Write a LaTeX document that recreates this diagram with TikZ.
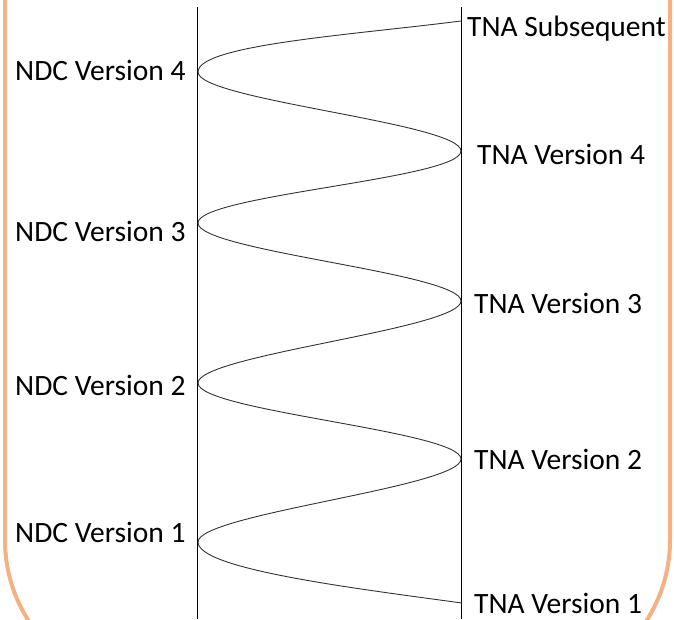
\documentclass[tikz,border=0pt]{standalone}
\usepackage{fontspec}
\setmainfont{Carlito}
\definecolor{frameorange}{HTML}{F4B183}
\begin{document}
\begin{tikzpicture}[x=1pt,y=-1pt,
  lbl/.style={anchor=base west,inner sep=0pt,font=\fontsize{29.5}{32}\selectfont},
  axis/.style={black,line width=0.9pt},
  wave/.style={black!80,line width=0.9pt}]
\useasboundingbox (0,0) rectangle (674,619);
\clip (0,0) rectangle (674,619);
% orange frame
\draw[frameorange,line width=4pt,rounded corners=150pt] (5,-300) rectangle (670,690);
% vertical lines
\coordinate (l1) at (197,7);
\coordinate (l2) at (197,619);
\coordinate (r1) at (461,7);
\coordinate (r2) at (461,619);
\draw[axis] (l1) -- (l2);
\draw[axis] (r1) -- (r2);
% tips
\coordinate (s0) at (461,21);
\coordinate (a4) at (198,72);
\coordinate (b4) at (461,151);
\coordinate (a3) at (198,223);
\coordinate (b3) at (461,301);
\coordinate (a2) at (198,383);
\coordinate (b2) at (461,459);
\coordinate (a1) at (198,542);
\coordinate (e0) at (462,603);
\draw[wave] (s0) .. controls (351,35) and (198,45) .. (a4)
  .. controls (198,100) and (461,123) .. (b4)
  .. controls (461,179) and (198,195) .. (a3)
  .. controls (198,251) and (461,273) .. (b3)
  .. controls (461,329) and (198,355) .. (a2)
  .. controls (198,411) and (461,431) .. (b2)
  .. controls (461,487) and (198,514) .. (a1)
  .. controls (198,569) and (352,588) .. (e0);
% labels
\node[lbl] (n4) at (15,80) {NDC Version 4};
\node[lbl] (n3) at (15,241) {NDC Version 3};
\node[lbl] (n2) at (15,395) {NDC Version 2};
\node[lbl] (n1) at (15,542) {NDC Version 1};
\node[lbl] (ts) at (467,36) {TNA Subsequent};
\node[lbl] (t4) at (477,164) {TNA Version 4};
\node[lbl] (t3) at (474,313) {TNA Version 3};
\node[lbl] (t2) at (474,469) {TNA Version 2};
\node[lbl] (t1) at (474,613) {TNA Version 1};
\end{tikzpicture}
\end{document}
